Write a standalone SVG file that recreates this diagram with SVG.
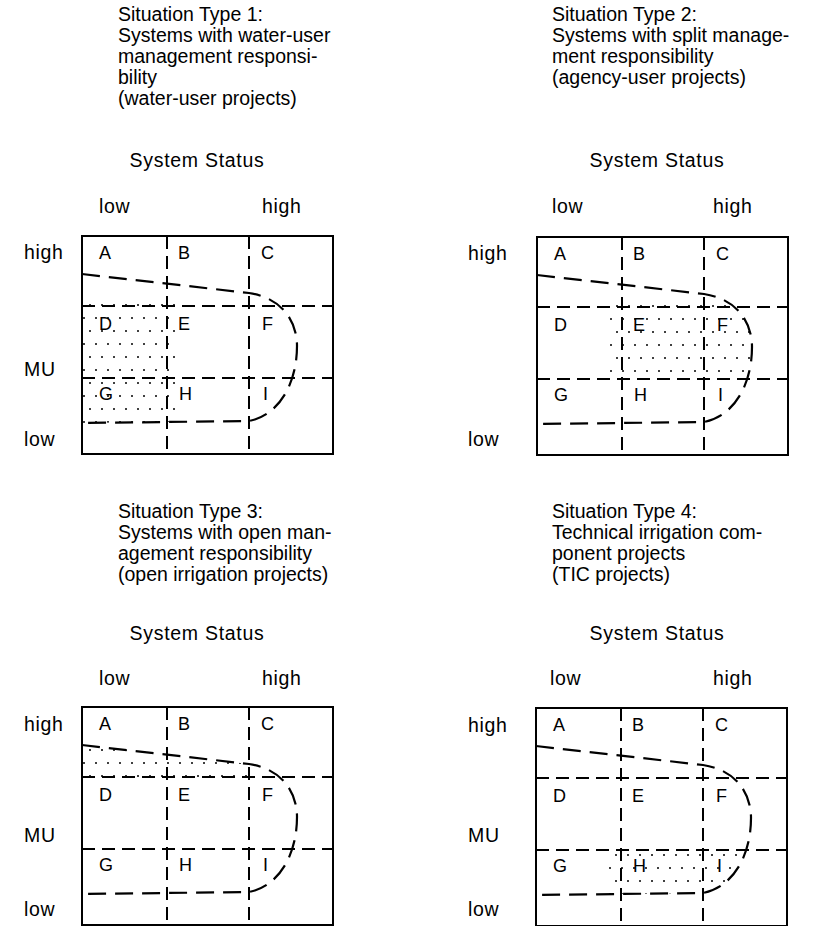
<svg xmlns="http://www.w3.org/2000/svg" width="834" height="926" viewBox="0 0 834 926">
<style>
text{font-family:"Liberation Sans",Arial,sans-serif;fill:#000}
.t{font-size:19.5px}
.lab{font-size:19.5px;letter-spacing:0.7px}
.cell{font-size:18px}
.box{fill:none;stroke:#000;stroke-width:2}
.grid{fill:none;stroke:#000;stroke-width:2;stroke-dasharray:13 7}
.curve{fill:none;stroke:#000;stroke-width:2.2;stroke-dasharray:18 9}
</style>
<defs>
<pattern id="dots" width="12" height="26" patternUnits="userSpaceOnUse">
<circle cx="2" cy="4" r="1" fill="#000"/>
<circle cx="8" cy="17" r="1" fill="#000"/>
</pattern>
<clipPath id="region">
<path d="M0,38 L167,57 C200,62 215,85 215,110 C215,150 195,180 167,185 L0,187 Z"/>
</clipPath>
<g id="frame">
<line class="grid" x1="0" y1="70" x2="251" y2="70"/>
<line class="grid" x1="0" y1="142" x2="251" y2="142"/>
<line class="grid" x1="85" y1="0" x2="85" y2="218"/>
<line class="grid" x1="167" y1="0" x2="167" y2="218"/>
<path class="curve" d="M0,38 L167,57 C200,62 215,85 215,110 C215,150 195,180 167,185 L0,187"/>
<rect class="box" x="0" y="0" width="251" height="218"/>
<text class="cell" x="17" y="23">A</text>
<text class="cell" x="96" y="23">B</text>
<text class="cell" x="179" y="23">C</text>
<text class="cell" x="17" y="94">D</text>
<text class="cell" x="96" y="94">E</text>
<text class="cell" x="180" y="94">F</text>
<text class="cell" x="17" y="164">G</text>
<text class="cell" x="97" y="164">H</text>
<text class="cell" x="181" y="164">I</text>
</g>
</defs>

<g id="panel1">
<text class="t" x="118" y="21">Situation Type 1:</text>
<text class="t" x="118" y="42">Systems with water-user</text>
<text class="t" x="118" y="63">management responsi-</text>
<text class="t" x="118" y="84">bility</text>
<text class="t" x="118" y="105">(water-user projects)</text>
<text class="lab" x="197" y="167" text-anchor="middle">System Status</text>
<text class="lab" x="99" y="213">low</text>
<text class="lab" x="262" y="213">high</text>
<text class="lab" x="24" y="259">high</text>
<text class="lab" x="24" y="376">MU</text>
<text class="lab" x="24" y="446">low</text>
<g transform="translate(82,236)">
<rect x="0" y="57" width="95" height="140" fill="url(#dots)" clip-path="url(#region)"/>
<use href="#frame"/>
</g>
</g>

<g id="panel2">
<text class="t" x="552" y="21">Situation Type 2:</text>
<text class="t" x="552" y="42">Systems with split manage-</text>
<text class="t" x="552" y="63">ment responsibility</text>
<text class="t" x="552" y="84">(agency-user projects)</text>
<text class="lab" x="657" y="167" text-anchor="middle">System Status</text>
<text class="lab" x="552" y="213">low</text>
<text class="lab" x="713" y="213">high</text>
<text class="lab" x="468" y="260">high</text>
<text class="lab" x="468" y="446">low</text>
<g transform="translate(537,237)">
<rect x="71" y="61" width="160" height="80" fill="url(#dots)" clip-path="url(#region)"/>
<use href="#frame"/>
</g>
</g>

<g id="panel3">
<text class="t" x="118" y="518">Situation Type 3:</text>
<text class="t" x="118" y="539">Systems with open man-</text>
<text class="t" x="118" y="560">agement responsibility</text>
<text class="t" x="118" y="581">(open irrigation projects)</text>
<text class="lab" x="197" y="640" text-anchor="middle">System Status</text>
<text class="lab" x="99" y="685">low</text>
<text class="lab" x="262" y="685">high</text>
<text class="lab" x="24" y="731">high</text>
<text class="lab" x="24" y="842">MU</text>
<text class="lab" x="24" y="916">low</text>
<g transform="translate(82,707)">
<rect x="0" y="0" width="170" height="76" fill="url(#dots)" clip-path="url(#region)"/>
<use href="#frame"/>
</g>
</g>

<g id="panel4">
<text class="t" x="552" y="518">Situation Type 4:</text>
<text class="t" x="552" y="539">Technical irrigation com-</text>
<text class="t" x="552" y="560">ponent projects</text>
<text class="t" x="552" y="581">(TIC projects)</text>
<text class="lab" x="657" y="640" text-anchor="middle">System Status</text>
<text class="lab" x="550" y="685">low</text>
<text class="lab" x="713" y="685">high</text>
<text class="lab" x="468" y="732">high</text>
<text class="lab" x="468" y="842">MU</text>
<text class="lab" x="468" y="916">low</text>
<g transform="translate(536,708)">
<rect x="73" y="135" width="160" height="60" fill="url(#dots)" clip-path="url(#region)"/>
<use href="#frame"/>
</g>
</g>
</svg>
